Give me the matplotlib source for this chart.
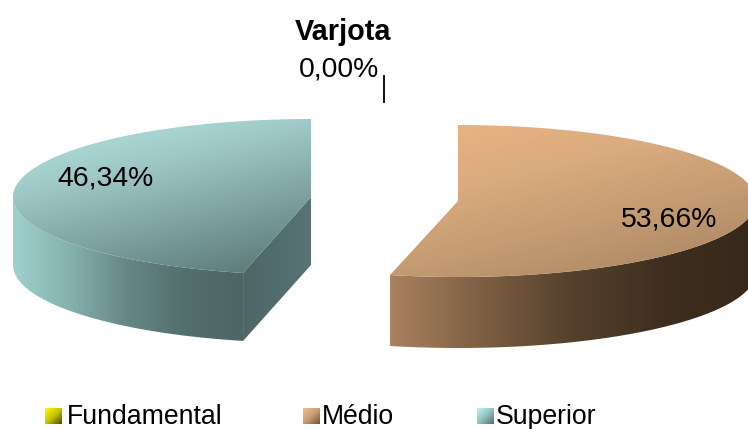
import numpy as np
import matplotlib
matplotlib.use("Agg")
import matplotlib.pyplot as plt
from matplotlib.colors import LinearSegmentedColormap
from matplotlib.patches import Polygon

plt.rcParams["font.family"] = ["Liberation Sans", "DejaVu Sans"]

title = "Varjota"
categories = ["Fundamental", "Médio", "Superior"]
values = [0.0, 53.66, 46.34]


def ellipse_points(cx, cy, rx, ry, a1, a2, n=200):
    """Points on the pie rim, angles in degrees (y axis points down)"""
    t = np.radians(np.linspace(a1, a2, n))
    return np.column_stack([cx + rx * np.cos(t), cy - ry * np.sin(t)])


def gradient_fill(ax, poly, colors, angle=0.0, zorder=2):
    """Fill a polygon with a linear gradient, angle 0 is left to right"""
    x0, y0 = poly.min(axis=0)
    x1, y1 = poly.max(axis=0)
    xx, yy = np.meshgrid(np.linspace(0, 1, 200), np.linspace(0, 1, 200))
    a = np.radians(angle)
    g = xx * np.cos(a) + yy * np.sin(a)
    g = (g - g.min()) / (g.max() - g.min())
    cmap = LinearSegmentedColormap.from_list("grad", colors)
    im = ax.imshow(g, extent=(x0, x1, y1, y0), cmap=cmap, vmin=0, vmax=1,
                   aspect="auto", zorder=zorder, interpolation="bilinear")
    patch = Polygon(poly, closed=True, transform=ax.transData, fc="none", ec="none")
    ax.add_patch(patch)
    im.set_clip_path(patch)


fig = plt.figure(figsize=(7.48, 4.29), dpi=100)
ax = fig.add_axes([0, 0, 1, 1])

# Both slices start at 12 o'clock, Médio clockwise and Superior counter-clockwise
medio_sweep = values[1] / sum(values) * 360
superior_sweep = values[2] / sum(values) * 360

# Médio
cx, cy, rx, ry, depth = 458, 201, 298, 76, 71
rim = ellipse_points(cx, cy, rx, ry, 90, 90 - medio_sweep)
top = np.vstack([[cx, cy], rim])
front = ellipse_points(cx, cy, rx, ry, 0, 90 - medio_sweep)
front = front[front[:, 1] >= cy - 5]
wall = np.vstack([front, front[::-1] + [0, depth]])
gradient_fill(ax, wall, ["#a9815f", "#7d5f43", "#54402c", "#3f2e1f", "#35281b"])
gradient_fill(ax, top, ["#ecb583", "#d9ab7e", "#c09870", "#a5835f"], angle=60, zorder=3)

# Superior
cx, cy, rx, ry, depth = 311, 197, 298, 78, 68
rim = ellipse_points(cx, cy, rx, ry, 90, 90 + superior_sweep)
top = np.vstack([[cx, cy], rim])
front = ellipse_points(cx, cy, rx, ry, 180, 90 + superior_sweep)
wall = np.vstack([front, front[::-1] + [0, depth]])
gradient_fill(ax, wall, ["#9fd0cd", "#84b0ad", "#668684", "#526e6d", "#4d6565"])
apex = rim[-1]
cut = np.array([[cx, cy], apex, apex + [0, depth], [cx, cy + depth]])
gradient_fill(ax, cut, ["#4d6767", "#577373"], zorder=2.5)
gradient_fill(ax, top, ["#b5e6e3", "#9fc9c6", "#7b9f9d", "#567472"], angle=65, zorder=3)

# Labels
def pct(v):
    return f"{v:.2f}".replace(".", ",") + "%"


ax.text(343, 31.5, title, fontsize=20.8, fontweight="bold", ha="center", va="center")
ax.text(339, 70, pct(values[0]), fontsize=20.4, ha="center", va="center")
ax.plot([384, 384], [76, 102], color="black", lw=1.3, zorder=4)
ax.text(669, 219.5, pct(values[1]), fontsize=20.4, ha="center", va="center", zorder=5)
ax.text(106, 178.5, pct(values[2]), fontsize=20.4, ha="center", va="center", zorder=5)

# Legend
legend_colors = [["#ffff00", "#c8c400", "#4a4800"],
                 ["#f4c08e", "#c99d72", "#6e5238"],
                 ["#c4f2f0", "#93c2c0", "#4f6f6f"]]
legend_x = [45, 303, 477]
legend_text_x = [67, 322, 496]
for name, colors, x, tx in zip(categories, legend_colors, legend_x, legend_text_x):
    box = np.array([[x, 408], [x + 17, 408], [x + 17, 424], [x, 424]])
    gradient_fill(ax, box, colors, angle=45)
    ax.text(tx, 417, name, fontsize=19.2, ha="left", va="center")

ax.set_xlim(0, 748)
ax.set_ylim(429, 0)
ax.axis("off")

fig.savefig("out.png", dpi=100)
